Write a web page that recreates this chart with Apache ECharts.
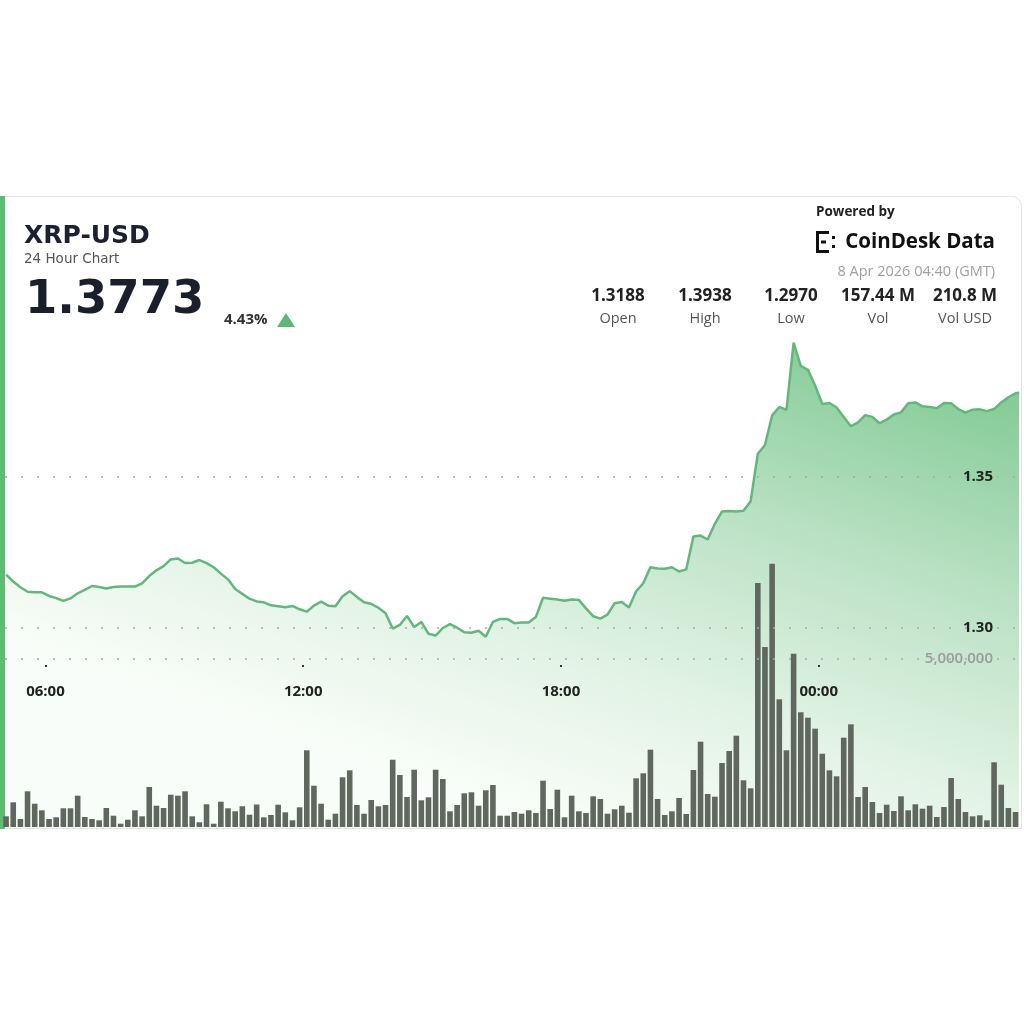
<!DOCTYPE html>
<html><head><meta charset="utf-8">
<script src="https://cdn.jsdelivr.net/npm/echarts@6/dist/echarts.min.js"></script>
<style>html,body{margin:0;padding:0;background:#fff}#c{width:1024px;height:1024px}</style>
</head><body><div id="c"></div>
<script>
// ---- data (minutes counted from 7 Apr 00:00 GMT) ----
const startMinute = 305;      // first 10-minute point, 05:05
const stepMinutes = 10;
const priceValues = [
 1.3177,1.3154,1.3135,1.3120,1.3118,1.3118,1.3106,1.3099,1.3090,1.3098,
 1.3115,1.3126,1.3139,1.3136,1.3131,1.3136,1.3137,1.3137,1.3137,1.3148,
 1.3172,1.3191,1.3205,1.3227,1.3230,1.3215,1.3216,1.3225,1.3215,1.3201,
 1.3180,1.3161,1.3129,1.3113,1.3097,1.3088,1.3085,1.3075,1.3072,1.3069,
 1.3073,1.3062,1.3054,1.3074,1.3087,1.3074,1.3072,1.3105,1.3122,1.3103,
 1.3085,1.3080,1.3067,1.3049,1.2998,1.3010,1.3040,1.3003,1.3020,1.2981,
 1.2975,1.3000,1.3013,1.3001,1.2986,1.2984,1.2991,1.2971,1.3020,1.3030,
 1.3030,1.3016,1.3018,1.3018,1.3036,1.3100,1.3097,1.3094,1.3090,1.3094,
 1.3093,1.3065,1.3039,1.3031,1.3044,1.3082,1.3086,1.3068,1.3121,1.3148,
 1.3201,1.3197,1.3196,1.3201,1.3187,1.3194,1.3303,1.3306,1.3293,1.3345,
 1.3386,1.3387,1.3386,1.3388,1.3420,1.3577,1.3606,1.3704,1.3732,1.3722,
 1.3945,1.3868,1.3855,1.3803,1.3742,1.3745,1.3730,1.3699,1.3668,1.3681,
 1.3705,1.3699,1.3678,1.3690,1.3707,1.3714,1.3744,1.3747,1.3734,1.3732,
 1.3728,1.3745,1.3744,1.3725,1.3713,1.3723,1.3724,1.3718,1.3725,1.3747,
 1.3764,1.3777
];
const lastMinute = 1720;      // 8 Apr 04:40
const lastPrice = 1.3779;
const volumeValues = [
 318000,735000,238000,1062000,693000,497000,238000,289000,557000,557000,
 932000,298000,238000,199000,565000,336000,98000,217000,497000,318000,
 1190000,634000,565000,961000,932000,1062000,318000,140000,676000,98000,
 753000,557000,467000,616000,366000,670000,289000,357000,664000,437000,
 199000,586000,2283000,1229000,693000,217000,396000,1479000,1687000,655000,
 396000,804000,616000,655000,2003000,1548000,893000,1705000,795000,884000,
 1705000,1428000,467000,655000,1003000,1033000,634000,1092000,1250000,336000,
 336000,446000,396000,497000,417000,1378000,536000,1110000,289000,932000,
 467000,417000,914000,833000,396000,527000,634000,426000,1449000,1598000,
 2301000,833000,357000,467000,863000,387000,1696000,2539000,982000,902000,
 1905000,2262000,2717000,1390000,1152000,7262000,5357000,7836000,3800000,2283000,
 5158000,3414000,3253000,2926000,2181000,1687000,1509000,2658000,3056000,893000,
 1190000,744000,417000,664000,476000,914000,497000,676000,545000,634000,
 298000,595000,1458000,833000,446000,318000,348000,199000,1926000,1259000,
 565000,446000
];
const timeTickValues = [360, 720, 1080, 1440];   // 06:00 12:00 18:00 00:00
const priceGridValues = [1.30, 1.35];
const volumeGridValues = [5000000];
const statValues = ['1.3188','1.3938','1.2970','157.44 M','210.8 M'];
const statLabels = ['Open','High','Low','Vol','Vol USD'];

// ---- build ----
const linePoints = priceValues.map((v, i) => [startMinute + i * stepMinutes, v]);
linePoints.push([lastMinute, lastPrice]);
const barPoints = volumeValues.map((v, i) => [startMinute + i * stepMinutes, v]);

const X_MIN = 303.5, X_MAX = 1724;
const fmtTime = v => {
  const m = ((Math.round(v) % 1440) + 1440) % 1440;
  const h = Math.floor(m / 60), mm = m % 60;
  return String(h).padStart(2,'0') + ':' + String(mm).padStart(2,'0');
};

const OS = '"Open Sans", "Noto Sans", sans-serif';
const DJ = '"DejaVu Sans", sans-serif';
function txt(text, x, y, size, weight, color, align, family) {
  return { type:'text', z:100, silent:true,
    style:{ text, x, y, fontSize:size, fontWeight:weight, fill:color,
            fontFamily: family || OS, align: align || 'left', verticalAlign:'middle' } };
}
const statCenters = [618, 705, 791, 878, 965];
const graphics = [
  { type:'rect', z:-10, silent:true, shape:{x:4.5, y:196.5, width:1017, height:632, r:[0,10,0,0]},
    style:{fill:'#fff', stroke:'#e3e3e3', lineWidth:1} },
  { type:'rect', z:-9, silent:true, shape:{x:0, y:196, width:5, height:633}, style:{fill:'#5cbd72'} },
  txt('XRP-USD', 24, 236, 25, 'bold', '#1c2030', 'left', DJ),
  txt('24 Hour Chart', 24, 259.5, 13.5, 'normal', '#555', 'left', DJ),
  txt('1.3773', 25, 301, 46.5, 'bold', '#1b1f2b', 'left', DJ),
  txt('4.43%', 224, 320, 15, 'bold', '#333', 'left', OS),
  { type:'polygon', z:100, silent:true, shape:{points:[[277,327],[295,327],[286,313]]}, style:{fill:'#5cb874'} },
  txt('Powered by', 816, 212.5, 13.5, 'bold', '#222', 'left', OS),
  { type:'rect', z:100, silent:true, shape:{x:816, y:231, width:13, height:3}, style:{fill:'#111'} },
  { type:'rect', z:100, silent:true, shape:{x:816, y:250, width:13, height:3}, style:{fill:'#111'} },
  { type:'rect', z:100, silent:true, shape:{x:816, y:231, width:3, height:22}, style:{fill:'#111'} },
  { type:'rect', z:100, silent:true, shape:{x:821, y:240.5, width:5, height:3}, style:{fill:'#111'} },
  { type:'rect', z:100, silent:true, shape:{x:832, y:236, width:3, height:3}, style:{fill:'#111'} },
  { type:'rect', z:100, silent:true, shape:{x:832, y:245, width:3, height:3}, style:{fill:'#111'} },
  txt('CoinDesk Data', 995, 242.5, 20.5, 'bold', '#111', 'right', OS),
  txt('8 Apr 2026 04:40 (GMT)', 995, 271.5, 14.5, 'normal', '#a0a0a0', 'right', OS)
];
statValues.forEach((v, i) => graphics.push(txt(v, statCenters[i], 296.5, 17, 'bold', '#222', 'center', OS)));
statLabels.forEach((v, i) => graphics.push(txt(v, statCenters[i], 318.5, 14.5, 'normal', '#555', 'center', OS)));

const chart = echarts.init(document.getElementById('c'), null, {renderer:'canvas'});
chart.setOption({
  animation:false,
  backgroundColor:'#fff',
  graphic: graphics,
  grid:[
    {left:5, right:2, top:326, bottom:197},
    {left:5, right:2, top:491, bottom:197}
  ],
  xAxis:[
    { type:'value', gridIndex:0, min:X_MIN, max:X_MAX, offset:-162, z:20,
      axisLine:{show:false}, splitLine:{show:false},
      axisTick:{show:true, length:2, customValues: timeTickValues, lineStyle:{color:'#333', width:2}},
      axisLabel:{show:true, customValues: timeTickValues, formatter: fmtTime, margin:19,
        color:'#222', fontSize:15, fontWeight:'bold', fontFamily:OS} },
    { type:'value', gridIndex:1, min:X_MIN, max:X_MAX, show:false }
  ],
  yAxis:[
    { type:'value', gridIndex:0, min:1.2341, max:1.40, show:false, splitLine:{show:false} },
    { type:'value', gridIndex:1, min:0, max:10000000, show:false, splitLine:{show:false} }
  ],
  series:[
    { type:'line', xAxisIndex:0, yAxisIndex:0, data:linePoints, symbol:'none', z:2,
      lineStyle:{color:'#63b77a', width:2.5},
      areaStyle:{ opacity:1, color:{ type:'linear', x:1000, y:400, x2:830, y2:915, global:true,
        colorStops:[{offset:0,color:'#86cc98'},{offset:0.35,color:'#bae1c4'},{offset:0.7,color:'#e2f3e5'},{offset:1,color:'#f9fdf9'}] } },
      markLine:{ silent:true, symbol:'none', animation:false,
        lineStyle:{type:[2,14], color:'#a8a8a8', width:1.5},
        label:{show:true, position:'insideEnd', distance:[29,0], formatter: p => p.value.toFixed(2),
          color:'#222', fontSize:15, fontWeight:'bold', fontFamily:OS},
        data: priceGridValues.map(v => ({yAxis:v})) } },
    { type:'bar', xAxisIndex:1, yAxisIndex:1, data:barPoints, barWidth:5.6, z:3,
      itemStyle:{color:'#60675f'},
      markLine:{ silent:true, symbol:'none', animation:false,
        lineStyle:{type:[2,14], color:'#a8a8a8', width:1.5},
        label:{show:true, position:'insideEnd', distance:[29,0],
          formatter: p => p.value.toLocaleString('en-US'),
          color:'#9a9a9a', fontSize:15, fontWeight:600, fontFamily:OS},
        data: volumeGridValues.map(v => ({yAxis:v})) } }
  ]
});
</script></body></html>
